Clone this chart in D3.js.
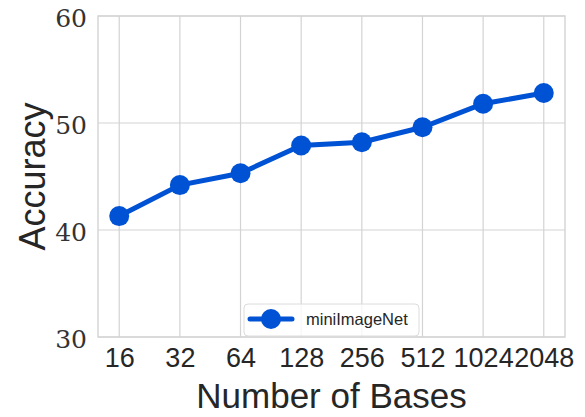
<!DOCTYPE html>
<html>
<head>
<meta charset="utf-8">
<script src="https://cdn.jsdelivr.net/npm/d3@7"></script>
<style>
  body { margin: 0; background: #fff; }
</style>
</head>
<body>
<div id="chart"></div>
<script>
// Data
const bases = ["16", "32", "64", "128", "256", "512", "1024", "2048"];
const accuracy = [41.3, 44.2, 45.3, 47.9, 48.2, 49.6, 51.8, 52.8];
const yTicks = [30, 40, 50, 60];
const seriesName = "miniImageNet";

const svgWidth = 585;
const svgHeight = 417;
const margin = { top: 16, right: 20, bottom: 80, left: 98 };
const width = 565 - margin.left;
const height = 337 - margin.top;

const lineColor = "#0052d4";
const gridColor = "#d3d3d3";

const svg = d3.select("#chart")
    .append("svg")
    .attr("width", svgWidth)
    .attr("height", svgHeight);

const chartGroup = svg.append("g")
    .attr("transform", `translate(${margin.left}, ${margin.top})`);

// Scales
const xScale = d3.scalePoint()
    .domain(bases)
    .range([0, width])
    .padding(0.35);

const yScale = d3.scaleLinear()
    .domain([30, 60])
    .range([height, 0]);

// Grid lines
chartGroup.append("g")
    .selectAll("line")
    .data(yTicks)
    .enter()
    .append("line")
    .attr("x1", 0)
    .attr("x2", width)
    .attr("y1", d => yScale(d))
    .attr("y2", d => yScale(d))
    .attr("stroke", gridColor)
    .attr("stroke-width", 1.2);

chartGroup.append("g")
    .selectAll("line")
    .data(bases)
    .enter()
    .append("line")
    .attr("x1", d => xScale(d))
    .attr("x2", d => xScale(d))
    .attr("y1", 0)
    .attr("y2", height)
    .attr("stroke", gridColor)
    .attr("stroke-width", 1.2);

// Frame
chartGroup.append("rect")
    .attr("width", width)
    .attr("height", height)
    .attr("fill", "none")
    .attr("stroke", gridColor)
    .attr("stroke-width", 1.4);

// Axes
const bottomAxis = d3.axisBottom(xScale).tickSize(0).tickPadding(10);
const leftAxis = d3.axisLeft(yScale).tickValues(yTicks).tickSize(0).tickPadding(10);

const xAxisG = chartGroup.append("g")
    .attr("transform", `translate(0, ${height})`)
    .call(bottomAxis);
xAxisG.select(".domain").remove();
xAxisG.selectAll("text")
    .style("font-family", "'Liberation Sans', sans-serif")
    .style("font-size", "27px")
    .attr("fill", "#262626")
    .attr("dy", "0.71em")
    .attr("y", 11);

const yAxisG = chartGroup.append("g")
    .call(leftAxis);
yAxisG.select(".domain").remove();
yAxisG.selectAll("text")
    .style("font-family", "'DejaVu Serif', serif")
    .style("font-size", "25px")
    .attr("fill", "#333")
    .attr("x", -11)
    .attr("dy", "0.4em");

// Line and markers
const line = d3.line()
    .x((d, i) => xScale(bases[i]))
    .y(d => yScale(d));

chartGroup.append("path")
    .datum(accuracy)
    .attr("d", line)
    .attr("fill", "none")
    .attr("stroke", lineColor)
    .attr("stroke-width", 5);

chartGroup.selectAll(".pt")
    .data(accuracy)
    .enter()
    .append("circle")
    .attr("class", "pt")
    .attr("cx", (d, i) => xScale(bases[i]))
    .attr("cy", d => yScale(d))
    .attr("r", 10)
    .attr("fill", lineColor);

// Legend
const legend = chartGroup.append("g")
    .attr("transform", `translate(${width / 2 - 87.5}, ${height - 33})`);

legend.append("rect")
    .attr("width", 175)
    .attr("height", 32)
    .attr("rx", 4)
    .attr("fill", "#fff")
    .attr("fill-opacity", 0.8)
    .attr("stroke", "#dcdcdc");

legend.append("line")
    .attr("x1", 6)
    .attr("x2", 48)
    .attr("y1", 15)
    .attr("y2", 15)
    .attr("stroke", lineColor)
    .attr("stroke-width", 5)
    .attr("stroke-linecap", "round");

legend.append("circle")
    .attr("cx", 27)
    .attr("cy", 15)
    .attr("r", 10)
    .attr("fill", lineColor);

legend.append("text")
    .attr("x", 62)
    .attr("y", 21)
    .style("font-family", "'Liberation Sans', sans-serif")
    .style("font-size", "16.5px")
    .attr("fill", "#262626")
    .text(seriesName);

// Axis labels
chartGroup.append("text")
    .attr("transform", "rotate(-90)")
    .attr("x", -height / 2)
    .attr("y", 45 - margin.left)
    .attr("text-anchor", "middle")
    .style("font-family", "'Liberation Sans', sans-serif")
    .style("font-size", "36px")
    .attr("fill", "#262626")
    .text("Accuracy");

chartGroup.append("text")
    .attr("x", width / 2)
    .attr("y", 408 - margin.top)
    .attr("text-anchor", "middle")
    .style("font-family", "'Liberation Sans', sans-serif")
    .style("font-size", "35px")
    .attr("fill", "#262626")
    .text("Number of Bases");
</script>
</body>
</html>
